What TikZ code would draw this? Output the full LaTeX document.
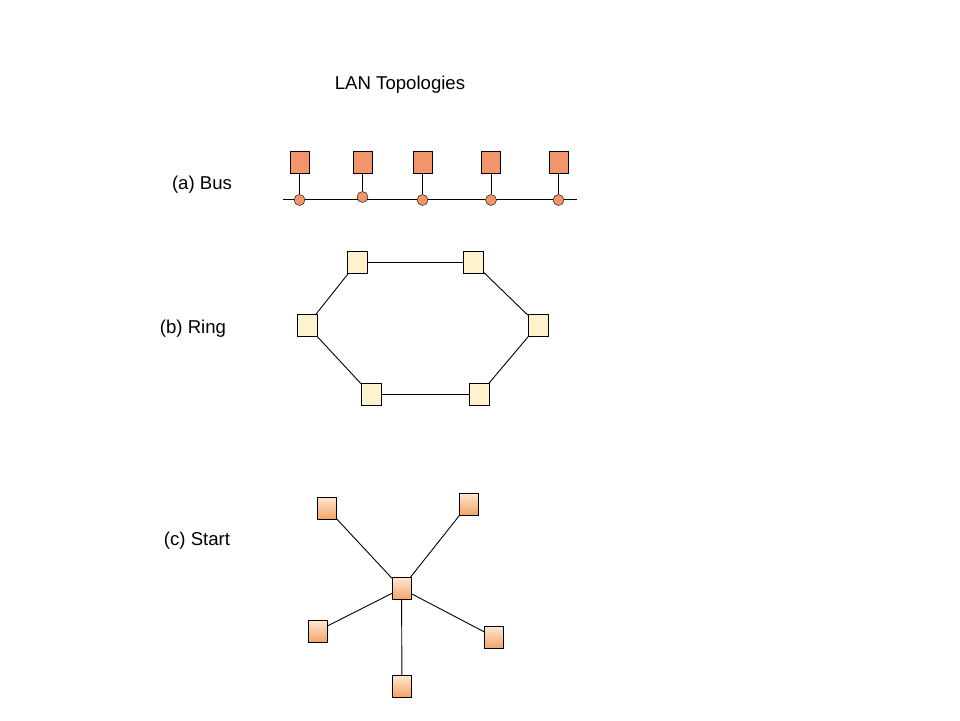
\documentclass[tikz,border=0pt]{standalone}
\usepackage{fontspec}
\setmainfont{Liberation Sans}
\usepackage{tikz}
\usetikzlibrary{positioning, calc}
\definecolor{busfill}{RGB}{242,149,106}
\definecolor{ringfill}{RGB}{255,242,204}
\definecolor{startop}{RGB}{254,232,208}
\definecolor{starbot}{RGB}{244,164,104}

\begin{document}
\begin{tikzpicture}[x=1pt, y=-1pt,
        label/.style={font=\fontsize{18.6}{22}\selectfont},
        busnode/.style={draw, rectangle, minimum width=19pt, minimum height=22pt, fill=busfill, inner sep=0pt},
        tap/.style={draw, circle, minimum size=11pt, fill=busfill, inner sep=0pt},
        ringnode/.style={draw, rectangle, minimum width=20pt, minimum height=22pt, fill=ringfill, inner sep=0pt},
        starnode/.style={draw, rectangle, minimum width=19pt, minimum height=22pt, top color=startop, bottom color=starbot, inner sep=0pt},
        line/.style={line width=0.9pt}
    ]
        \useasboundingbox (0,0) rectangle (960,720);

        % titles
        \node[label] (title) at (400,85) {LAN Topologies};
        \node[label] (lbus) at (202,185) {(a) Bus};
        \node[label] (lring) at (193,329) {(b) Ring};
        \node[label] (lstar) at (197,541) {(c) Start};

        % bus
        \coordinate (busL) at (283,199);
        \coordinate (busR) at (577,199);
        \draw[line] (busL) -- (busR);
        \foreach \i/\x/\y in {1/299.5/200, 2/362.5/197, 3/422.5/200, 4/491/200, 5/558.5/200} {
            \node[busnode] (b\i) at (\x,162) {};
            \node[tap] (t\i) at (\x,\y) {};
            \draw[line] (b\i) -- (t\i);
        }

        % ring
        \node[ringnode] (r1) at (357,262.5) {};
        \node[ringnode] (r2) at (473.5,262.5) {};
        \node[ringnode] (r3) at (538,325) {};
        \node[ringnode] (r4) at (479.5,394.5) {};
        \node[ringnode] (r5) at (371,394.5) {};
        \node[ringnode] (r6) at (307,325.5) {};
        \draw[line] (r1) -- (r2) -- (r3) -- (r4) -- (r5) -- (r6) -- (r1);

        % star
        \node[starnode] (hub) at (401.5,588.5) {};
        \node[starnode] (s1) at (326.5,508) {};
        \node[starnode] (s2) at (468.5,504) {};
        \node[starnode] (s3) at (317.5,631) {};
        \node[starnode] (s4) at (494,637) {};
        \node[starnode] (s5) at (402,686) {};
        \foreach \s in {s1,s2,s3,s4,s5}
            \draw[line] (hub) -- (\s);

    \end{tikzpicture}
\end{document}
